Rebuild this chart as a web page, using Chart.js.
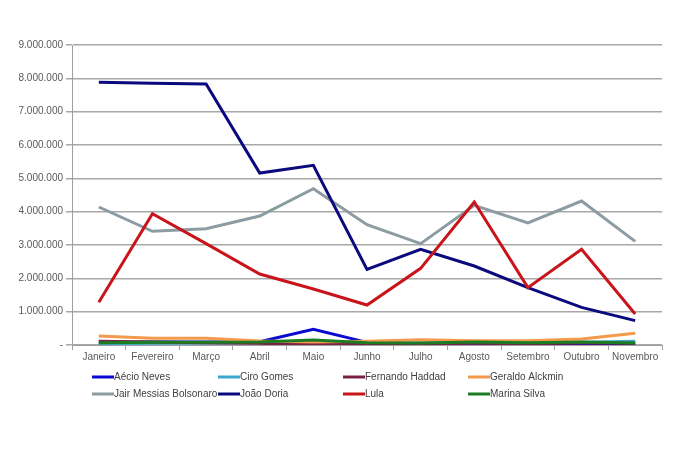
<!DOCTYPE html>
<html>
<head>
<meta charset="utf-8">
<style>
  html, body { margin: 0; padding: 0; background: #fff; }
  #wrap { width: 680px; height: 453px; }
</style>
<script src="https://cdn.jsdelivr.net/npm/chart.js@4/dist/chart.umd.min.js"></script>
</head>
<body>
<div id="wrap"><canvas id="chart" width="680" height="453"></canvas></div>
<script>
// Months (categories)
const months = ['Janeiro', 'Fevereiro', 'Março', 'Abril', 'Maio', 'Junho', 'Julho', 'Agosto', 'Setembro', 'Outubro', 'Novembro'];

// Series values
const aecioNeves = [80000, 90000, 90000, 100000, 470000, 80000, 40000, 30000, 30000, 30000, 30000];
const ciroGomes = [40000, 50000, 60000, 70000, 60000, 60000, 60000, 70000, 60000, 80000, 110000];
const fernandoHaddad = [110000, 90000, 70000, 50000, 20000, 30000, 40000, 50000, 40000, 60000, 50000];
const geraldoAlckmin = [270000, 200000, 200000, 120000, 90000, 110000, 160000, 130000, 130000, 180000, 350000];
const bolsonaro = [4140000, 3410000, 3490000, 3870000, 4690000, 3610000, 3040000, 4190000, 3660000, 4320000, 3110000];
const joaoDoria = [7880000, 7850000, 7830000, 5160000, 5390000, 2270000, 2870000, 2370000, 1720000, 1130000, 730000];
const lula = [1280000, 3940000, 3040000, 2130000, 1680000, 1200000, 2300000, 4290000, 1720000, 2870000, 930000];
const marinaSilva = [70000, 80000, 80000, 90000, 150000, 70000, 60000, 90000, 70000, 90000, 60000];

// Y axis ticks
const yMax = 9000000;
const yStep = 1000000;

const seriesNames = ['Aécio Neves', 'Ciro Gomes', 'Fernando Haddad', 'Geraldo Alckmin', 'Jair Messias Bolsonaro', 'João Doria', 'Lula', 'Marina Silva'];
const seriesData = [aecioNeves, ciroGomes, fernandoHaddad, geraldoAlckmin, bolsonaro, joaoDoria, lula, marinaSilva];
const seriesColors = ['#0a0ad0', '#3aa8cc', '#7a1f45', '#f39a4c', '#8d9ba3', '#0a0a7e', '#c8141a', '#1c7c24'];

const datasets = seriesNames.map((name, i) => ({
    label: name,
    data: seriesData[i],
    borderColor: seriesColors[i],
    backgroundColor: seriesColors[i],
    borderWidth: 3,
    pointRadius: 0,
    tension: 0,
    fill: false,
    // later series on top, like the original
    order: seriesNames.length - i
}));

function formatNumber(v) {
    if (v === 0) return '-';
    return v.toString().replace(/\B(?=(\d{3})+(?!\d))/g, '.');
}

// Legend drawn in a fixed 4-column grid
const gridLegend = {
    id: 'gridLegend',
    afterDraw(chart) {
        const ctx = chart.ctx;
        const colX = [92, 218, 343, 468];
        const rowY = [377, 394];
        ctx.save();
        ctx.font = '10px "Liberation Sans", Arial, sans-serif';
        ctx.textBaseline = 'middle';
        ctx.textAlign = 'left';
        chart.data.datasets.forEach((ds, i) => {
            const x = colX[i % 4];
            const y = rowY[Math.floor(i / 4)];
            ctx.strokeStyle = ds.borderColor;
            ctx.lineWidth = 3;
            ctx.beginPath();
            ctx.moveTo(x, y);
            ctx.lineTo(x + 22, y);
            ctx.stroke();
            ctx.fillStyle = '#404040';
            ctx.fillText(ds.label, x + 22, y + 0.5);
        });
        ctx.restore();
    }
};

new Chart(document.getElementById('chart'), {
    type: 'line',
    data: { labels: months, datasets: datasets },
    options: {
        responsive: false,
        animation: false,
        layout: { padding: { left: 0, right: 18, top: 45, bottom: 88 } },
        plugins: {
            legend: { display: false },
            tooltip: { enabled: false }
        },
        scales: {
            x: {
                offset: true,
                grid: {
                    offset: true,
                    drawOnChartArea: false,
                    color: '#a0a0a0',
                    tickLength: 5,
                    lineWidth: 1
                },
                border: { color: '#a0a0a0', width: 1 },
                ticks: {
                    color: '#595959',
                    font: { family: '"Liberation Sans Narrow", "Arial Narrow", "Liberation Sans", sans-serif', size: 10 },
                    padding: 1,
                    maxRotation: 0,
                    autoSkip: false
                },
                afterFit(scale) { scale.height = 20; }
            },
            y: {
                min: 0,
                max: yMax,
                grid: {
                    color: '#a8a8a8',
                    lineWidth: 1.5,
                    tickLength: 6
                },
                border: { color: '#a0a0a0', width: 1 },
                ticks: {
                    stepSize: yStep,
                    color: '#595959',
                    font: { family: '"Liberation Sans", Arial, sans-serif', size: 10 },
                    padding: 3,
                    callback: (v) => formatNumber(v)
                },
                afterFit(scale) { scale.width = 72; }
            }
        }
    },
    plugins: [gridLegend]
});
</script>
</body>
</html>
